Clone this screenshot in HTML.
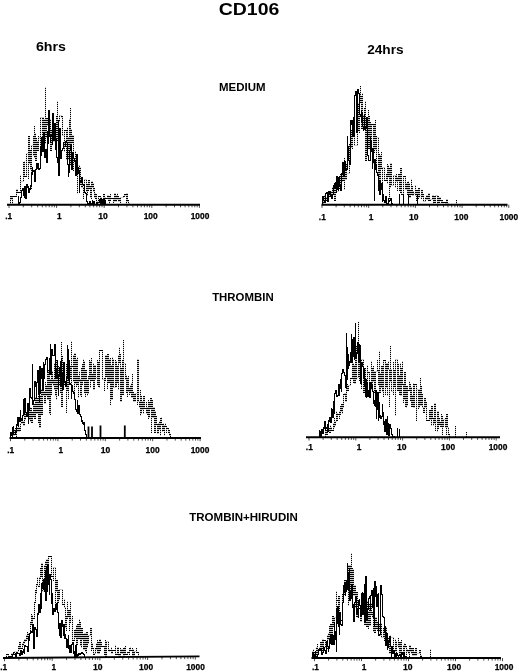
<!DOCTYPE html>
<html><head><meta charset="utf-8"><title>CD106</title>
<style>
html,body{margin:0;padding:0;background:#fff}
svg{display:block}
text{font-family:"Liberation Sans",sans-serif;font-weight:bold;fill:#000}
.al{stroke:#000;stroke-width:0.25}
.k{stroke:#000;stroke-width:1.8;fill:none}
.s{stroke:#000;stroke-width:1;fill:none;shape-rendering:crispEdges}
.d{stroke:url(#dots);stroke-width:1;fill:none;shape-rendering:crispEdges}
</style></head><body>
<svg width="520" height="671" viewBox="0 0 520 671">
<defs><pattern id="dots" patternUnits="userSpaceOnUse" x="-0.5" y="-0.5" width="4" height="2"><rect x="0" y="0" width="4" height="1.2" fill="#000"/></pattern></defs>
<rect width="520" height="671" fill="#fff"/>
<g transform="translate(0.5,0.5)">
<text x="248.5" y="14.4" text-anchor="middle" font-size="16" textLength="60.5" lengthAdjust="spacingAndGlyphs">CD106</text>
<text x="50.4" y="50.5" text-anchor="middle" font-size="13" textLength="30" lengthAdjust="spacingAndGlyphs">6hrs</text>
<text x="384.9" y="53.4" text-anchor="middle" font-size="13" textLength="36.5" lengthAdjust="spacingAndGlyphs">24hrs</text>
<text x="241.8" y="90.6" text-anchor="middle" font-size="10.8" textLength="46.5" lengthAdjust="spacingAndGlyphs">MEDIUM</text>
<text x="242.4" y="300.5" text-anchor="middle" font-size="10.8" textLength="61.5" lengthAdjust="spacingAndGlyphs">THROMBIN</text>
<text x="243" y="520.6" text-anchor="middle" font-size="10.8" textLength="108.5" lengthAdjust="spacingAndGlyphs">TROMBIN+HIRUDIN</text>
<line x1="6.5" y1="204.25" x2="199.5" y2="204.25" stroke="#000" stroke-width="1.9"/>
<path d="M8.5 204.2v3.2M22.8 204.2v2.6M31.2 204.2v2.6M37.2 204.2v2.6M41.8 204.2v2.6M45.5 204.2v2.6M48.7 204.2v2.6M51.5 204.2v2.6M53.9 204.2v2.6M56.1 204.2v3.2M70.4 204.2v2.6M78.8 204.2v2.6M84.8 204.2v2.6M89.4 204.2v2.6M93.1 204.2v2.6M96.3 204.2v2.6M99.1 204.2v2.6M101.5 204.2v2.6M103.7 204.2v3.2M118.0 204.2v2.6M126.4 204.2v2.6M132.4 204.2v2.6M137.0 204.2v2.6M140.7 204.2v2.6M143.9 204.2v2.6M146.7 204.2v2.6M149.1 204.2v2.6M151.3 204.2v3.2M165.6 204.2v2.6M174.0 204.2v2.6M180.0 204.2v2.6M184.6 204.2v2.6M188.3 204.2v2.6M191.5 204.2v2.6M194.3 204.2v2.6M196.7 204.2v2.6M198.9 204.2v3.2" stroke="#000" stroke-width="0.7" fill="none"/>
<text x="8.1" y="218.4" text-anchor="middle" font-size="8.3" class="al">.1</text>
<text x="58.7" y="218.4" text-anchor="middle" font-size="8.3" class="al">1</text>
<text x="102.5" y="218.4" text-anchor="middle" font-size="8.3" class="al" textLength="9.5" lengthAdjust="spacingAndGlyphs">10</text>
<text x="150.2" y="218.4" text-anchor="middle" font-size="8.3" class="al" textLength="14.0" lengthAdjust="spacingAndGlyphs">100</text>
<text x="199.5" y="218.4" text-anchor="middle" font-size="8.3" class="al" textLength="18.6" lengthAdjust="spacingAndGlyphs">1000</text>
<path d="M9 204H10V201V204V196H11V199V198H12V203V201V196H13H14H15H16V194V189H17V191V188V192H18H19H20V187V174V181H21H22H23V161V167H24V160V176H25H26V163V173V153H27H28V178V136H29V158V163V150H30V151V169H31V188V166V145H32H33V135V155H34V125V157V141H35V132V138V160H36V137V141H37V144V145V150H38V142V135V137H39H40V148V119V117H41H42V127V140H43V116V146H44V132V118V143H45V86V130V137H46V120V117V118H47V125V119H48H49H50V119V136V150H51V143V129V142H52V141V122H53V133V141V133H54V131V141V125H55V142V140H56V118V122V116H57V100V118V140H58V141V138V121H59V117V118V115H60H61V117V116H62V125V135H63H64V151V130H65H66V157V136V159H67V150V126V137H68V158V159H69V127V152V119H70V164V107V129H71V163V140H72V142V135H73V167V170V163H74H75V150V172H76V165V166H77V193V157V165H78H79V173V167H80V169V180V184H81V179V177V187H82V176V182V187H83V191V198V191H84V178V179H85H86V188V191H87V190V195V184H88V190V180H89V188V186H90V197V190V189H91V198V195V181H92V187V183H93V191V188H94V197V195V193H95V192V198H96V195V193V201H97V201V204H98V200V196H99H100V197V200H101V196V204V200H102V201V200V201H103V199V194H104V199V193V197H105V203V198H106H107V196V195H108V194V200H109V204V200V196H110V200V193V198H111H112H113V202V201H114V192V193H115V194V196V201H116V196V198V195H117V192V196V199H118V201V195V201H119V201V198H120V202V198V197H121H122H123V196V196H124V193V194H125V194V195H126V203V200V193H127V201V198V200H128V202V203H129V204" class="d"/>
<path d="M18 204V195V204H19V202H20V197H21V190V190H22V188H23V195V193H24V197V186H25V198H26V184H27V187V186H28V192H29V188H30V189V185H31V172V174H32V166V171H33V170H34V181H35V176V169H36V162V168H37V163H38V169H39V168H40V146V155H41V147V137H42V151H43V133H44V157H45V149H46V162H47V130V143H48V110H49V136H50V141V134H51V135V134H52V144V113H53V139H54V123H55V149H56V137V157H57V162H58V119V175H59V144V128H60V158H61V150H62V148H63V141V146H64V146H65V141H66V142H67V151V164H68V176V172H69V168V150H70V144H71V169H72V159V152H73V158H74V161H75V174V175H76V172V154H77V173H78V166V171H79V192V182H80V181H81V177H82V179V184H83V185H84V192V192H85V193H86V201H87V203H88V203H89V204" class="s"/>
<path d="M89 204V200V201H90V202V204H91V202V203H92V199V204H93V202V203V201H94V201V202V204H95H96V201V204H97V202V203V202H98H99V199V199H100V204V202V204H101V204V199H102V203V204V201H103V204V201V198H104V204V200H105V204V204V204H106V204" class="s"/>
<line x1="321.0" y1="204.25" x2="507.0" y2="204.25" stroke="#000" stroke-width="1.9"/>
<path d="M321.5 204.2v3.2M335.6 204.2v2.6M343.8 204.2v2.6M349.6 204.2v2.6M354.1 204.2v2.6M357.8 204.2v2.6M361.0 204.2v2.6M363.7 204.2v2.6M366.1 204.2v2.6M368.2 204.2v3.2M382.3 204.2v2.6M390.5 204.2v2.6M396.3 204.2v2.6M400.8 204.2v2.6M404.5 204.2v2.6M407.7 204.2v2.6M410.4 204.2v2.6M412.8 204.2v2.6M414.9 204.2v3.2M429.0 204.2v2.6M437.2 204.2v2.6M443.0 204.2v2.6M447.5 204.2v2.6M451.2 204.2v2.6M454.4 204.2v2.6M457.1 204.2v2.6M459.5 204.2v2.6M461.6 204.2v3.2M475.7 204.2v2.6M483.9 204.2v2.6M489.7 204.2v2.6M494.2 204.2v2.6M497.9 204.2v2.6M501.1 204.2v2.6M503.8 204.2v2.6M506.2 204.2v2.6M508.3 204.2v3.2" stroke="#000" stroke-width="0.7" fill="none"/>
<text x="321.8" y="219.2" text-anchor="middle" font-size="8.3" class="al">.1</text>
<text x="370.5" y="219.2" text-anchor="middle" font-size="8.3" class="al">1</text>
<text x="413.3" y="219.2" text-anchor="middle" font-size="8.3" class="al" textLength="9.5" lengthAdjust="spacingAndGlyphs">10</text>
<text x="460.8" y="219.2" text-anchor="middle" font-size="8.3" class="al" textLength="14.0" lengthAdjust="spacingAndGlyphs">100</text>
<text x="508.3" y="219.2" text-anchor="middle" font-size="8.3" class="al" textLength="18.6" lengthAdjust="spacingAndGlyphs">1000</text>
<path d="M322 204V203V197V196H323V203V202V199H324V197V200V195H325V195V201V200H326V198V197H327V195V198H328V193V192H329V191V196H330V192V194H331V190V192H332V194V194V187H333H334V187V192V200H335V190V187V188H336V184V180V191H337H338V180V178V183H339V188V188H340V173V178V175H341V179V181H342V179V168V180H343V165V171H344V189V157V166H345V173V172V179H346V163V166V173H347H348H349V143V147H350H351V129V140H352V148V124H353V127V116V117H354V121V141V145H355H356H357V112V114V130H358V102V111H359V132V102H360V85V96H361V119V101V128H362V92V110V118V115H363V130V129H364V112V108H365V100V157V160H366V120V134H367H368V109V148H369V115V122H370V124V146H371V129V124H372H373V133V163V128H374V144V152V124H375V119V149V141H376V135V167V137H377H378V184V161H379V153V181H380V160V154V163H381V166V151V168H382V169V192V167H383H384V177V180H385H386V178V174H387V183V163V173H388V176V164V168H389V168V198V180H390V177V187V163H391V166V169V185H392H393V179V185V175H394H395V187V182V181H396V173V177H397V178V190V179H398V180V174H399V190V185H400V192V168H401V179V194H402H403V192V176H404H405V188V189H406V182V189V189H407V194V182H408V196V180V183H409V194V197H410V194V191V190H411V184V178V194H412V185V190V195H413V190V193H414H415V184V195V195H416V190V200V190H417V198V190V198H418V195V196V188H419V190V197V195H420H421V193V198V190H422V194V196H423V193V201H424H425V196V200V199H426V197V194V199H427V197V194V199H428V200V193H429V196V200H430V200V199H431H432V195V195H433V203V195V202H434V195V199V200H435V202V202V195H436H437V202V203V196H438V202V196V198H439V202V199V197H440V199V198V200H441V202V200H442V202V202H443H444H445V204V201V202H446V203V199H447V203V202V203H448V204M456 204V199" class="d"/>
<path d="M322 204V196H323V200H324V202H325V193H326V192H327V192V201H328V199V191H329V194V191H330V195H331V198H332V197V194H333V189V185H334V188V183H335V181V188H336V192V176H337V189H338V185V177H339V175V185H340V190H341V173H342V162H343V176H344V161H345V169H346V169H347V135V146H348V160H349V164H350V145V120H351V124H352V136V120H353V116V136H354V95H355V91H356V132H357V88V89H358V93H359V114H360V116H361V110V122H362V112V126H363V129V128H364V114V129H365V127H366V117H367V138V155H368V160H369V160H370V136V141H371V151H372V168V148H373V161H374V200V159H375V169V164H376V172H377V175H378V190H379V179V194H380V179V189H381V183H382V201V194H383V200H384V202H385V196V196H386V203H387V204H388V197V201H389V200H390V198H391V203H392V204M399 204V193M403 204V193M408 204V194M417 204V193" class="s"/>
<line x1="9.0" y1="437.5" x2="200.5" y2="437.5" stroke="#000" stroke-width="1.9"/>
<path d="M10.0 437.5v3.2M24.3 437.5v2.6M32.6 437.5v2.6M38.5 437.5v2.6M43.1 437.5v2.6M46.9 437.5v2.6M50.1 437.5v2.6M52.8 437.5v2.6M55.2 437.5v2.6M57.4 437.5v3.2M71.7 437.5v2.6M80.0 437.5v2.6M85.9 437.5v2.6M90.5 437.5v2.6M94.3 437.5v2.6M97.5 437.5v2.6M100.2 437.5v2.6M102.6 437.5v2.6M104.8 437.5v3.2M119.1 437.5v2.6M127.4 437.5v2.6M133.3 437.5v2.6M137.9 437.5v2.6M141.7 437.5v2.6M144.9 437.5v2.6M147.6 437.5v2.6M150.0 437.5v2.6M152.2 437.5v3.2M166.5 437.5v2.6M174.8 437.5v2.6M180.7 437.5v2.6M185.3 437.5v2.6M189.1 437.5v2.6M192.3 437.5v2.6M195.0 437.5v2.6M197.4 437.5v2.6M199.6 437.5v3.2" stroke="#000" stroke-width="0.7" fill="none"/>
<text x="10.1" y="452.0" text-anchor="middle" font-size="8.3" class="al">.1</text>
<text x="60.3" y="452.0" text-anchor="middle" font-size="8.3" class="al">1</text>
<text x="104.9" y="452.0" text-anchor="middle" font-size="8.3" class="al" textLength="9.5" lengthAdjust="spacingAndGlyphs">10</text>
<text x="152.1" y="452.0" text-anchor="middle" font-size="8.3" class="al" textLength="14.0" lengthAdjust="spacingAndGlyphs">100</text>
<text x="199.5" y="452.0" text-anchor="middle" font-size="8.3" class="al" textLength="18.6" lengthAdjust="spacingAndGlyphs">1000</text>
<path d="M11 437H12V434V428V435H13H14V434V430H15V431V429V428H16V437V426V427H17V429V431V431H18V428V421V431H19V426V430H20V426V422V423H21V419V423V422H22V423V419V421H23V423V425H24V418V411H25V419V417V414H26H27V412V408H28V421V419V419H29V408V406V414H30V421V406V408H31V418V412V422H32V411V414V416H33V406V403V404H34V409V404V418H35V406V411V397H36V411V409V413H37V397V399V408H38V422V393V394H39V399V394V427H40V394V402V414H41V388V402V402H42V414V411V390H43V386V395H44V390V398V403H45V381V393V395H46V384V384V390H47V363V386V399H48V393V370H49V413V379H50V383V414V383H51V394V373V383H52V370V372V379H53V385V382H54V380V362V389H55V382V395V363H56V399V359V389H57V364V368V384H58V365V371V381H59V373V385V382H60V377V368V392H61V341V393V406H62V363V355V379H63V379V363H64V366V384V375H65H66V412V376V364H67V390V377H68V398V384H69V365V366H70V378V375V369H71V340V388V366H72H73V381V355H74V355V396V353H75V353V366V383H76V358V386V384H77V356V374V377H78V397V376H79V370V381H80V395V379H81V367V396V384H82V363V381V380H83V358V375H84V390V360V392H85V396V370H86V392V385H87V395V379V393H88V380V375V379H89V359V378V379H90V387V360V373H91V357V377V380H92V374V374H93V362V389H94V369V378V365H95V379V377H96H97V359V384H98V361V362V386H99V387V350H100H101H102V371V379H103H104V390V387V378H105V380V361V355H106V358V376H107V383V388V354H108V371V382H109V358V366H110V357V404V366H111V364V376V399H112V363V356V367H113V374V358V387H114H115V359V384V372H116V360V386V382H117V379V366H118V361V389V355H119V346V362H120V368V353V401H121V381V367V394H122V359V360V380H123V339V394V363H124H125V379V377V378H126V375V374V392H127V377V396V391H128V375V388H129V394V392H130V385V391V385H131V392V382V397H132V378V373V392H133V401V394H134V394V401H135V399V400V393H136H137V378V404V359H138V391V394V401H139V407V402H140V389V415V413H141V395V401H142V409V408V408H143V411V413V396H144V400V396V408H145H146V406V401V413H147V406V408V414H148V399V418V415H149V410V417V402H150V408V398H151V432V401V400H152V404V417H153V406V406V417H154V417V406V432H155V426V410V416H156V417V424V424H157V428V433H158V422V425H159V429V429V421H160V417V435V423H161V421V416V424H162V431V423V430H163V422V428H164V435V425V425H165V422V426H166V432V428H167H168V428V432V430H169V435V434V434H170V437" class="d"/>
<path d="M10 437V435V432H11V431V435H12V426V427H13V425V434H14V434H15V431H16V424V424H17V416V425H18V417H19V421H20V409V418H21V420V420H22V415H23V398V414H24V405V398H25V412H26V416H27V410V403H28V423V409H29V388H30V397H31V398H32V363V404H33V400H34V381H35V386H36V397V382H37V370H38V394V388H39V401V366H40V393V370H41V378V368H42V390H43V361V378H44V364H45V359H46V357H47V372H48V372H49V357V373H50V343V374H51V349H52V355H53V355H54V353V344H55V378H56V368V372H57V359V378H58V395V375H59V367H60V360V385H61V357V373H62V389H63V381V362H64V381H65V386H66V377H67V344V349H68V379H69V359V384H70V382V384H71V398V385H72V387V391H73V393H74V392V399H75V409H76V411H77V399V413H78V405H79V414H80V416H81V421H82V419V423H83V424V422H84V430H85V434H86V437" class="s"/>
<path d="M88 437V426M91.5 437V426M100 437V425M124.3 437V425" class="k"/>
<line x1="305.5" y1="436.8" x2="499.5" y2="436.8" stroke="#000" stroke-width="1.9"/>
<path d="M308.5 436.8v3.2M322.6 436.8v2.6M330.8 436.8v2.6M336.7 436.8v2.6M341.2 436.8v2.6M344.9 436.8v2.6M348.1 436.8v2.6M350.8 436.8v2.6M353.2 436.8v2.6M355.3 436.8v3.2M369.4 436.8v2.6M377.6 436.8v2.6M383.5 436.8v2.6M388.0 436.8v2.6M391.7 436.8v2.6M394.9 436.8v2.6M397.6 436.8v2.6M400.0 436.8v2.6M402.1 436.8v3.2M416.2 436.8v2.6M424.4 436.8v2.6M430.3 436.8v2.6M434.8 436.8v2.6M438.5 436.8v2.6M441.7 436.8v2.6M444.4 436.8v2.6M446.8 436.8v2.6M448.9 436.8v3.2M463.0 436.8v2.6M471.2 436.8v2.6M477.1 436.8v2.6M481.6 436.8v2.6M485.3 436.8v2.6M488.5 436.8v2.6M491.2 436.8v2.6M493.6 436.8v2.6M495.7 436.8v3.2" stroke="#000" stroke-width="0.7" fill="none"/>
<text x="308.8" y="449.4" text-anchor="middle" font-size="8.3" class="al">.1</text>
<text x="358.5" y="449.4" text-anchor="middle" font-size="8.3" class="al">1</text>
<text x="401.3" y="449.4" text-anchor="middle" font-size="8.3" class="al" textLength="9.5" lengthAdjust="spacingAndGlyphs">10</text>
<text x="447.6" y="449.4" text-anchor="middle" font-size="8.3" class="al" textLength="14.0" lengthAdjust="spacingAndGlyphs">100</text>
<text x="497.5" y="449.4" text-anchor="middle" font-size="8.3" class="al" textLength="18.6" lengthAdjust="spacingAndGlyphs">1000</text>
<path d="M325 436V435V430H326V429V433V434H327V429V429H328V430V431V430H329V427V432H330V429V424V430H331V430V426V430H332H333V422V425V427H334V417V419V425H335V420V421H336V416V410V413H337V420V414H338H339V418V412V411H340V410V414V406H341V411V410V404H342V413V406H343V401V407V394H344V392V393H345V393V394V401H346V391V393V387H347V390V383V390H348V384V385H349H350V378V384V378H351H352V365V363H353V374V382H354V364V366V383H355V357V355V352H356V345V379V377H357H358V321V344V338V353H359V343V364V380H360H361V367V388V359H362H363V389V374V392H364V390V369V373H365V367V369V387H366H367V377V364V372H368H369V391V377V382H370H371V360V389V368H372V374V384V381H373V365V371H374V392V386H375V383V396V371H376H377V359V370V370H378V384V382H379V350V387V392H380V381V372V387H381V383V366H382V384V391V380H383V396V360H384H385V366V394V371H386V373V387V363H387V395V391V368H388V360V369H389V406V387V381H390V345V367V374H391V372V368V391H392H393V394V361V386H394V369V383H395V415V359H396H397V363V365V390H398V363V389V375H399V383V388V394H400V362V375V395H401V367V370V368H402V360V384H403V402V401V391H404V376V371V399H405V371V406H406V396V407V386H407V405V390H408H409V380V381V384H410V385V400V399H411V386V396V406H412V402V404V395H413V382V407H414V407V390V384H415H416V407V420V389H417H418V405V408V403H419V388V407V396H420V398V377V405H421V385V400V394H422V403V406V407H423V411V412H424V400V403V398H425V397V407H426V404V401V420H427H428H429V416V410H430V418V419V416H431V425V413V406H432V415V414V418H433V417V425V419H434V423V412V403H435V430V429V421H436H437V429V431V411H438V427V428V418H439V422V424H440V423V421V426H441V413V422V417H442V434V415V426H443V425V424V419H444H445V417V427V420H446V434V414V414H447V419V427H448V433V429V434H449V436M455 436V425M466 436V431" class="d"/>
<path d="M319 436V429V432H320V430V436H321V435V429H322V431V433H323V431V427H324V428V421H325V430V427H326V428V428H327V423V431H328V419V421H329V417H330V420V422H331V407V417H332V408V417H333V400V413H334V396V393H335V390H336V396H337V395H338V395V384H339V395V388H340V381V379H341V391V373H342V369H343V372H344V375V375H345V387H346V332V357V347H347V379V354H348V368V365H349V360V362H350V351V360H351V333V362H352V358V339H353V356V337H354V359V348H355V322V358H356V353H357V343V342H358V353V362H359V345H360V348V383H361V363V362H362V366H363V377V368H364V369V386H365V396V379H366V397V383H367V396H368V390H369V381V397H370V388V382H371V388H372V383V391H373V403H374V399V405H375V406V390H376V418V409H377V392H378V420V402H379V417H380V414V418H381V418V416H382V403V412H383V424V421H384V425V431H385V419H386V419V434H387V415V423H388V435H389V424H390V426V428H391V434H392V436H393V436V436H394V436M397 436V427M399 436V428" class="s"/>
<line x1="2.5" y1="657.5" x2="199.0" y2="655.9" stroke="#000" stroke-width="1.9"/>
<path d="M4.0 657.5v3.2M18.4 657.4v2.6M26.8 657.3v2.6M32.7 657.3v2.6M37.3 657.2v2.6M41.1 657.2v2.6M44.3 657.2v2.6M47.1 657.1v2.6M49.5 657.1v2.6M51.7 657.1v3.2M66.1 657.0v2.6M74.5 656.9v2.6M80.4 656.9v2.6M85.0 656.8v2.6M88.8 656.8v2.6M92.0 656.8v2.6M94.8 656.7v2.6M97.2 656.7v2.6M99.4 656.7v3.2M113.8 656.6v2.6M122.2 656.5v2.6M128.1 656.5v2.6M132.7 656.4v2.6M136.5 656.4v2.6M139.7 656.4v2.6M142.5 656.4v2.6M144.9 656.3v2.6M147.1 656.3v3.2M161.5 656.2v2.6M169.9 656.1v2.6M175.8 656.1v2.6M180.4 656.1v2.6M184.2 656.0v2.6M187.4 656.0v2.6M190.2 656.0v2.6M192.6 656.0v2.6M194.8 655.9v3.2" stroke="#000" stroke-width="0.7" fill="none"/>
<text x="3.1" y="669.6" text-anchor="middle" font-size="8.3" class="al">.1</text>
<text x="53.3" y="669.6" text-anchor="middle" font-size="8.3" class="al">1</text>
<text x="97.3" y="669.6" text-anchor="middle" font-size="8.3" class="al" textLength="9.5" lengthAdjust="spacingAndGlyphs">10</text>
<text x="145.6" y="669.6" text-anchor="middle" font-size="8.3" class="al" textLength="14.0" lengthAdjust="spacingAndGlyphs">100</text>
<text x="195.0" y="669.6" text-anchor="middle" font-size="8.3" class="al" textLength="18.6" lengthAdjust="spacingAndGlyphs">1000</text>
<path d="M6 657V654V654H7H8V653V654V656H9H10H11V653V653H12H13V651V654V654H14V652V651V651H15H16H17H18V649V645V647H19V649V646V642H20V642V648H21H22V642V645H23V644V642V641H24V642V643V639H25V641V638V640H26V635V634V637H27V631V639H28V632V634V633H29H30V628V622H31V613V624H32V615V614V618H33H34V602V602H35V596V589V593H36V587V584H37V585V576V585H38V586V586H39V576V578H40V567V576H41V566V568V563H42V569V575V591H43H44V564V564V575H45V565V560V567H46V562V583V559H47V576V577H48V555V577V556H49H50H51V558V556V576H52H53V580V567H54H55V605V581H56V591V582V580H57V604V602H58V589V599H59V595V589H60H61H62V599V594V604H63H64V599V598V607H65V627V616H66V630V622V616H67V600V618V616H68V616V611V610H69V625V630V622H70V601V619H71H72V615V640H73H74V629V637H75V628V636H76V624V644H77V625V635V624H78V632V631V638H79V629V618V622H80V645V630H81V647V628H82V635V638V639H83V649V633V649H84V633V638V633H85V651V633V633H86V653V632H87V644V647V641H88V642V643V635H89H90V629V628H91V650V636V644H92V642V648H93V647V654H94V654V653H95V647V649H96V642V645H97V639V653H98V650V646V642H99V653V639H100V646V650V642H101V646V646H102H103H104V647V654H105V639V657H106V645V641V641H107H108V650V643V649H109V651V650H110H111V646V649V653H112V650V650H113H114H115V644V654H116H117V653V654V647H118V651V655H119V653V655V656H120V647V653H121V648V649V650H122V650V653V649H123V647V657H124V653V657V647H125V645V654H126H127V651V652H128H129V654V648H130V650V646V650H131H132V655V647V649H133V652V656V656H134V652V651H135H136V647V650V652H137H138V657" class="d"/>
<path d="M12 657V655V654H13V652V654H14V654V654H15V652V656H16V651V652H17V653H18V653H19V654V655H20V650H21V654H22V650V652H23V649H24V653V645H25V644V646H26V646H27V651H28V635V640H29V633H30V631H31V632H32V624H33V629V648H34V637V627H35V629H36V636H37V615V613H38V614V604H39V612H40V593H41V608V583H42V588V588H43V589V579H44V591V578H45V570V600H46V565V571H47V591V564H48V567V584V581H49V594V574H50V579H51V602V603H52V592V614H53V609V608H54V611H55V604H56V609V603H57V612H58V622V628H59V635V623H60V625V637H61V630V620H62V626H63V635V624H64V627V638H65V633V638H66V647H67V639H68V634V648H69V652V645H70V645V652H71V644H72V644V642H73V653V651H74V656H75V654V645H76V652V657H77V653V654H78V655V653H79V654V654H80V653V653H81V653V652H82V653H83V654H84V657H85V657V657H86V657" class="s"/>
<line x1="311.0" y1="657.5" x2="500.5" y2="657.5" stroke="#000" stroke-width="1.9"/>
<path d="M314.0 657.5v3.2M328.1 657.5v2.6M336.4 657.5v2.6M342.3 657.5v2.6M346.9 657.5v2.6M350.6 657.5v2.6M353.7 657.5v2.6M356.4 657.5v2.6M358.8 657.5v2.6M361.0 657.5v3.2M375.1 657.5v2.6M383.4 657.5v2.6M389.3 657.5v2.6M393.9 657.5v2.6M397.6 657.5v2.6M400.7 657.5v2.6M403.4 657.5v2.6M405.8 657.5v2.6M408.0 657.5v3.2M422.1 657.5v2.6M430.4 657.5v2.6M436.3 657.5v2.6M440.9 657.5v2.6M444.6 657.5v2.6M447.7 657.5v2.6M450.4 657.5v2.6M452.8 657.5v2.6M455.0 657.5v3.2M469.1 657.5v2.6M477.4 657.5v2.6M483.3 657.5v2.6M487.9 657.5v2.6M491.6 657.5v2.6M494.7 657.5v2.6M497.4 657.5v2.6M499.8 657.5v2.6M502.0 657.5v3.2" stroke="#000" stroke-width="0.7" fill="none"/>
<text x="315.0" y="669.7" text-anchor="middle" font-size="8.3" class="al">.1</text>
<text x="363.5" y="669.7" text-anchor="middle" font-size="8.3" class="al">1</text>
<text x="407.3" y="669.7" text-anchor="middle" font-size="8.3" class="al" textLength="9.5" lengthAdjust="spacingAndGlyphs">10</text>
<text x="453.6" y="669.7" text-anchor="middle" font-size="8.3" class="al" textLength="14.0" lengthAdjust="spacingAndGlyphs">100</text>
<text x="503.5" y="669.7" text-anchor="middle" font-size="8.3" class="al" textLength="18.6" lengthAdjust="spacingAndGlyphs">1000</text>
<path d="M312 657V653V652V651H313V656V648V652H314V654V656H315H316V654V655V647H317V643V654H318V653V650H319V650V650V647H320V641V642H321V647V652H322V645V639V639H323V648V640H324H325V642V647H326V644V647V648H327V640V635H328V632V639H329V642V625V634H330V635V642V624H331V634V624V629H332V639V616H333V626V620H334V627V625V617H335H336V625V590V600H337H338V623V596H339V617V620H340H341H342V596V594H343H344V585V586V580H345V588V580V588H346H347V568V576V586H348V605V564V578H349V564V565H350V593V578V567H351V552V586V575H352V567V583V569H353V572V595H354V594V591V585H355V601V607V600H356V616V592H357V611V617V614H358V600V608H359H360V609V617V621H361V596V607H362H363H364V618V624H365V610V613V619H366V610V612V626H367V600V606V611H368V628V624V611H369V621V603V625H370V604V603H371V612V605V614H372V611V617H373V621V631V618H374V624V628V632H375V617V630V617H376V624V616V628H377V621V630H378V617V630V624H379V631V629V627H380V635V628H381V622V629V637H382H383V627V629V630H384V640V629V630H385V627V634H386V643V626V638H387H388V639V638V640H389V635V645V653H390V634V637H391H392H393V644V651H394H395V638V645V649H396V654V640V645H397H398V637V647V642H399V653V648H400V654V646V642H401V641V639V652H402H403V644V653V651H404V642V646V644H405V647V646H406V654V649H407V651V650H408V653V653H409V657V645H410V651V651V650H411V647V653V648H412V649V655V648H413V655V652H414V655V652H415V655V648H416V655V649V653H417H418H419V650V650H420V656V655V655H421V657M430 657V648" class="d"/>
<path d="M312 657V652H313V652V655H314V653V657H315V650V657H316V657H317V656V654H318V651V649H319V648H320V650V649H321V654H322V652H323V647H324V650H325V652V653H326V641H327V646H328V651V648H329V638V643H330V635H331V644H332V635H333V644H334V621V631H335V639H336V651V608H337V623V606H338V618V626H339V634V612H340V624H341V625H342V608V602H343V584V592H344V582H345V595V591H346V580H347V562V585V589H348V588V573H349V567V600H350V589V598H351V584H352V605V607H353V603V621H354V602H355V596H356V606V613H357V608V614H358V617V600H359V598V605H360V615H361V593H362V591V614H363V592V596H364V583V621H365V615V576H366V620H367V614V609H368V598H369V596H370V610V595H371V590H372V595V607H373V618V588H374V625V581H375V596V586H376V606H377V598V594H378V592V635H379V634H380V585H381V594H382V616H383V617H384V631V631H385V625V645H386V633H387V649V640H388V647V641H389V642V637H390V646H391V657V646H392V653H393V650H394V657H395V653H396V656V653H397V655H398V656V655H399V654H400V655V657H401V657V653H402V654H403V656V652H404V652V657H405V656H406V657" class="s"/>
</g>
</svg>
</body></html>
